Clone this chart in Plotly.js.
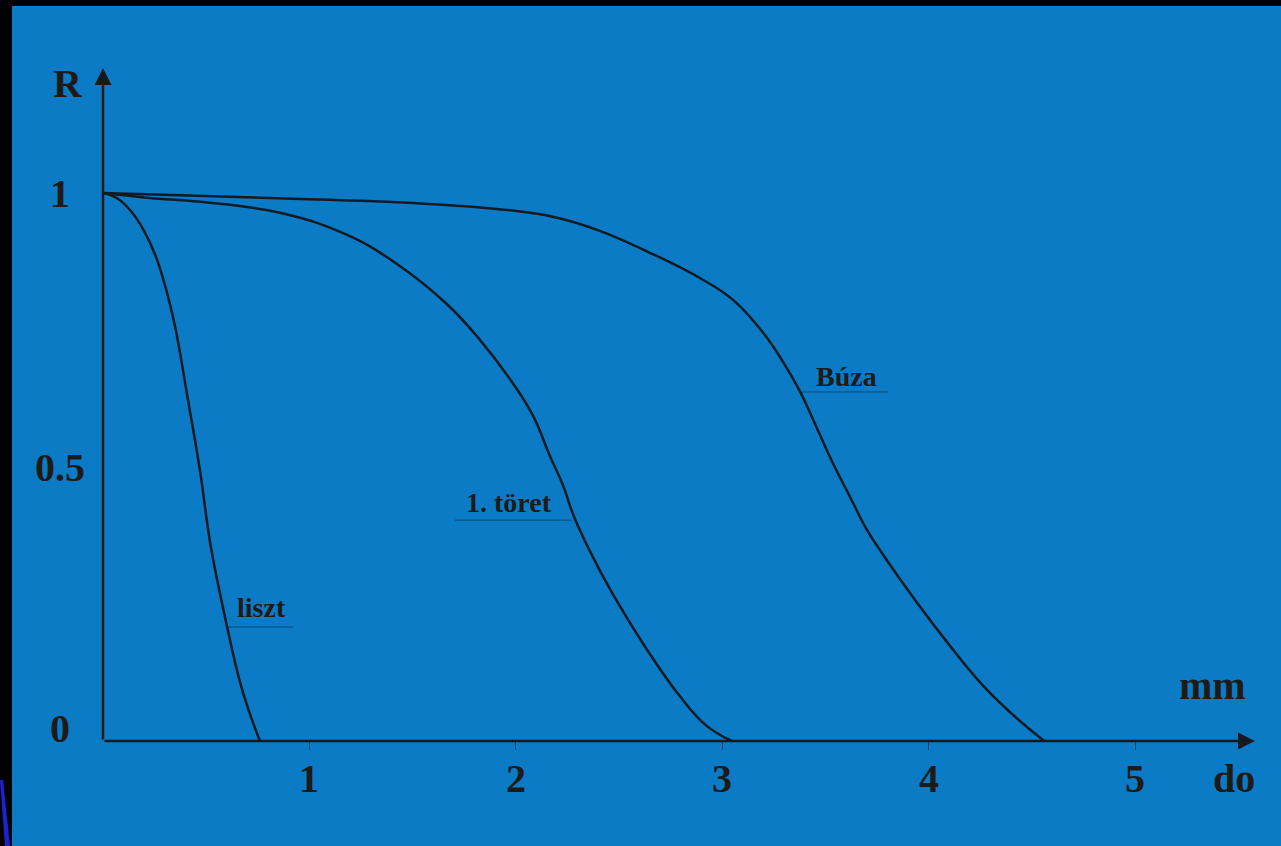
<!DOCTYPE html>
<html>
<head>
<meta charset="utf-8">
<script src="https://cdn.plot.ly/plotly-3.0.1.min.js"></script>
<style>
  html, body { margin: 0; padding: 0; background: #000; width: 1281px; height: 846px; overflow: hidden; }
  #chart { position: absolute; left: 12px; top: 6px; width: 1269px; height: 840px; }
  #edge { position: absolute; left: 0; top: 0; }
</style>
</head>
<body>
<svg id="edge" width="12" height="846"><polygon points="0,780 3,780 10,846 5,846" fill="#1a22d2"/></svg>
<div id="chart"></div>
<script>
// Residue curves R(do) for three milling fractions
const lisztX = [0, 0.07, 0.140, 0.200, 0.255, 0.305, 0.350, 0.410, 0.470, 0.520, 0.590, 0.673, 0.760];
const lisztY = [1, 0.990, 0.965, 0.930, 0.885, 0.825, 0.755, 0.626, 0.493, 0.360, 0.228, 0.095, 0];

const toretX = [0, 0.228, 0.470, 0.857, 1.180, 1.422, 1.664, 1.826, 1.987, 2.084, 2.165, 2.229, 2.278, 2.358, 2.471, 2.633, 2.794, 2.923, 3.045];
const toretY = [1, 0.991, 0.984, 0.964, 0.924, 0.871, 0.798, 0.732, 0.652, 0.593, 0.520, 0.466, 0.413, 0.347, 0.267, 0.168, 0.082, 0.028, 0];

const buzaX = [0, 0.373, 0.954, 1.501, 1.985, 2.200, 2.407, 2.649, 2.891, 3.052, 3.198, 3.294, 3.375, 3.456, 3.537, 3.617, 3.698, 3.779, 3.940, 4.102, 4.263, 4.425, 4.56];
const buzaY = [1, 0.996, 0.989, 0.982, 0.968, 0.955, 0.931, 0.891, 0.845, 0.805, 0.745, 0.692, 0.639, 0.573, 0.506, 0.447, 0.387, 0.340, 0.254, 0.174, 0.101, 0.042, 0];

const xTickVals = [1, 2, 3, 4, 5];
const xTickText = ['1', '2', '3', '4', '5'];
const yTickVals = [1, 0.5, 0];
const yTickText = ['1', '0.5', '0'];

// Curve names with the leader-line span [x0, x1, y] and the text anchor [x, y]
const curveNames = ['Búza', '1. töret', 'liszt'];
const leaderSpans = [[3.385, 3.801, 0.637], [1.705, 2.271, 0.403], [0.605, 0.920, 0.208]];
const nameAnchors = [[3.600, 0.666], [1.968, 0.436], [0.770, 0.243]];

const ink = '#141a20';
const textInk = '#1e1a18';
const serif = 'Liberation Serif, Times New Roman, serif';
const bigFont = { family: serif, size: 40, color: textInk, weight: 'bold' };

const curve = (x, y) => ({
  x: x, y: y, type: 'scatter', mode: 'lines',
  line: { color: ink, width: 2.5, shape: 'spline', smoothing: 1.2 },
  hoverinfo: 'skip'
});

const annotations = [];

// axis arrows
annotations.push({ x: 5.58, y: 0, ax: 0, ay: 0, xref: 'x', yref: 'y', axref: 'x', ayref: 'y',
  text: '', showarrow: true, arrowhead: 2, arrowsize: 1.35, arrowwidth: 2.5, arrowcolor: ink, standoff: 0 });
annotations.push({ x: 0, y: 1.228, ax: 0, ay: 0, xref: 'x', yref: 'y', axref: 'x', ayref: 'y',
  text: '', showarrow: true, arrowhead: 2, arrowsize: 1.35, arrowwidth: 2.5, arrowcolor: ink, standoff: 0 });

// x tick labels
xTickVals.forEach((v, i) => {
  annotations.push({ x: v, y: 0, xref: 'x', yref: 'y', text: xTickText[i], showarrow: false,
    xanchor: 'center', yanchor: 'middle', yshift: -37, font: bigFont });
});

// y tick labels
yTickVals.forEach((v, i) => {
  annotations.push({ x: -0.037, y: v, xref: 'paper', yref: 'y', text: yTickText[i], showarrow: false,
    xanchor: 'center', yanchor: 'middle', yshift: v === 0 ? 13 : 0, font: bigFont });
});

// axis names
annotations.push({ x: -0.030, y: 0.975, xref: 'paper', yref: 'paper', text: 'R', showarrow: false,
  xanchor: 'center', yanchor: 'middle', font: bigFont });
annotations.push({ x: 0.960, y: 0.082, xref: 'paper', yref: 'paper', text: 'mm', showarrow: false,
  xanchor: 'center', yanchor: 'middle', font: bigFont });
annotations.push({ x: 0.978, y: -0.055, xref: 'paper', yref: 'paper', text: 'do', showarrow: false,
  xanchor: 'center', yanchor: 'middle', font: bigFont });

// curve names
curveNames.forEach((name, i) => {
  annotations.push({ x: nameAnchors[i][0], y: nameAnchors[i][1], xref: 'x', yref: 'y', text: name,
    showarrow: false, xanchor: 'center', yanchor: 'middle',
    font: { family: serif, size: 28, color: textInk, weight: 'bold' } });
});

const shapes = leaderSpans.map(s => ({
  type: 'line', xref: 'x', yref: 'y', x0: s[0], x1: s[1], y0: s[2], y1: s[2],
  line: { color: 'rgba(20,30,45,0.55)', width: 1 }
}));

const layout = {
  width: 1269, height: 840,
  margin: { l: 91, r: 22, t: 61, b: 105 },
  paper_bgcolor: '#0a7bc4',
  plot_bgcolor: '#0a7bc4',
  showlegend: false,
  xaxis: {
    range: [0, 5.6], showgrid: false, zeroline: false, showline: false,
    tickvals: xTickVals, ticks: 'outside', ticklen: 8, tickwidth: 1,
    tickcolor: 'rgba(20,30,45,0.6)', showticklabels: false
  },
  yaxis: {
    range: [0, 1.23], showgrid: false, zeroline: false, showline: false,
    showticklabels: false, ticks: ''
  },
  shapes: shapes,
  annotations: annotations
};

Plotly.newPlot('chart', [curve(lisztX, lisztY), curve(toretX, toretY), curve(buzaX, buzaY)], layout,
  { staticPlot: true, displayModeBar: false });
</script>
</body>
</html>
